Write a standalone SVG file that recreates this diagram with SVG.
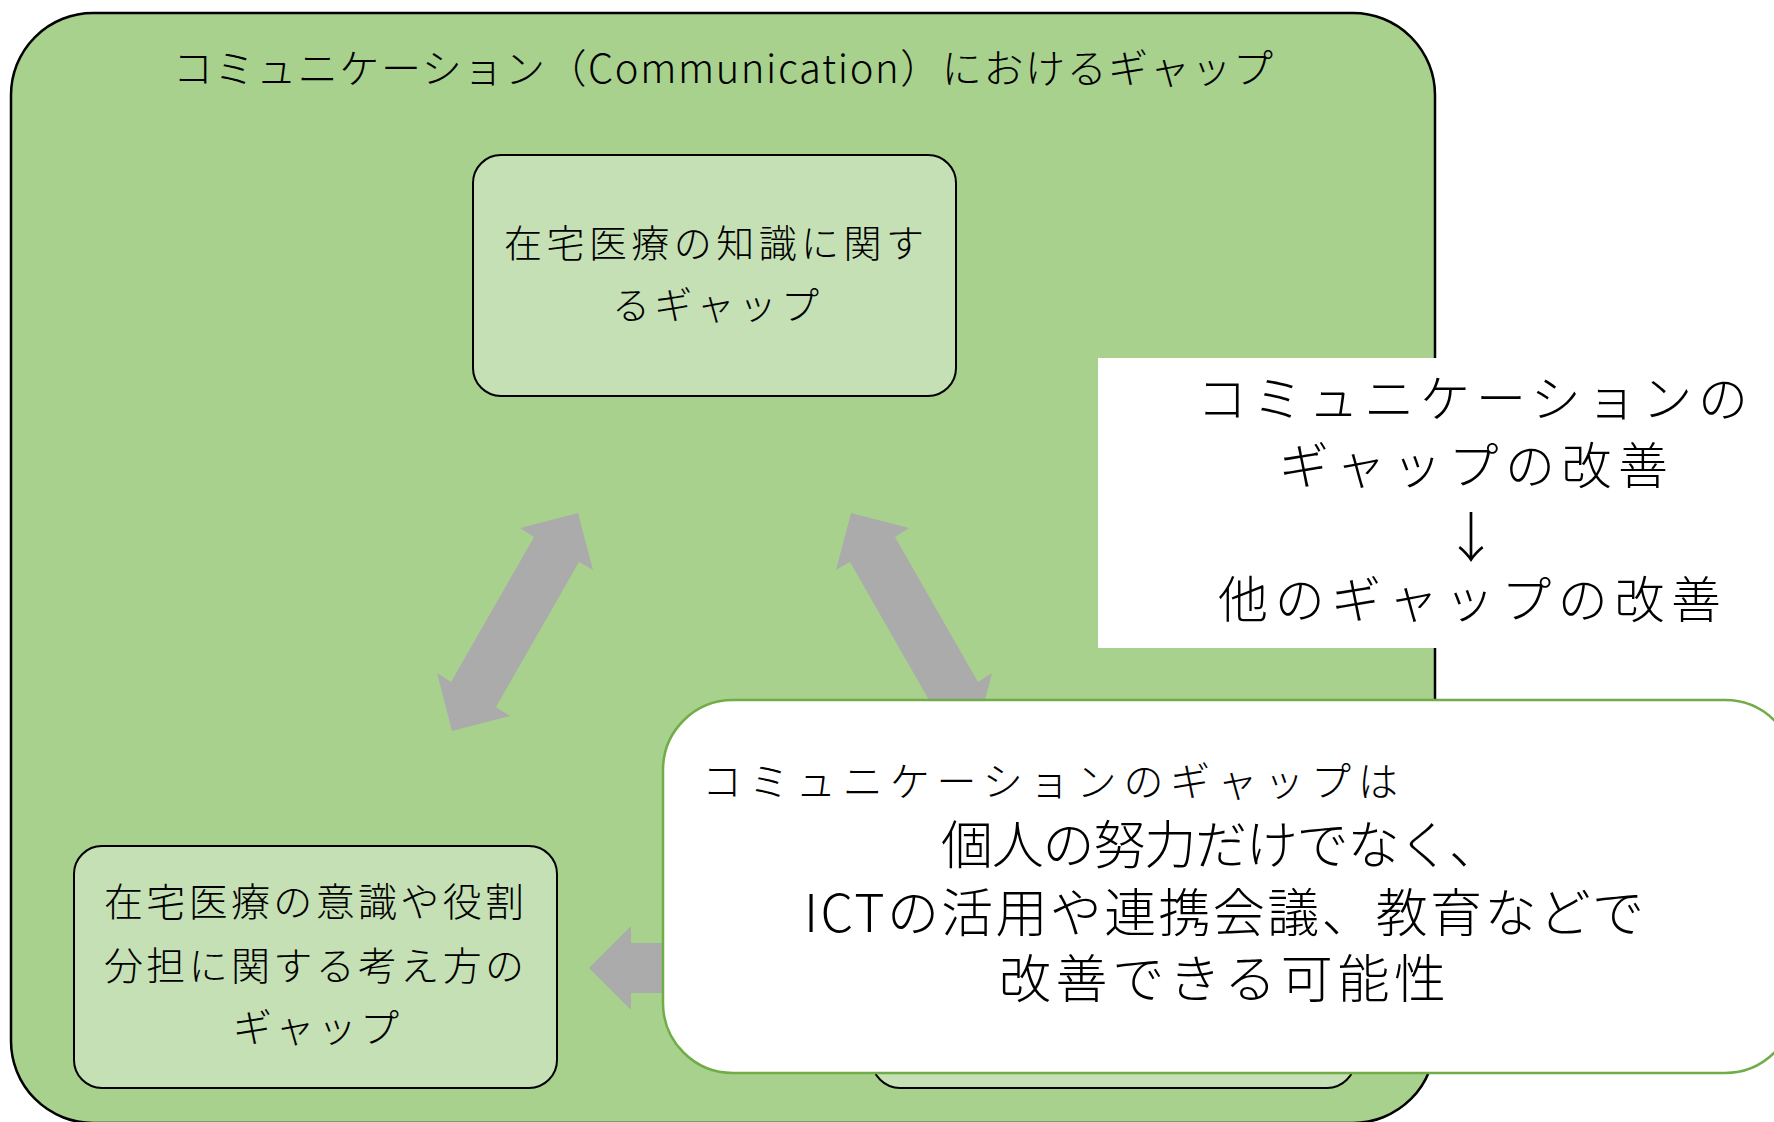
<svg xmlns="http://www.w3.org/2000/svg" width="1774" height="1122" viewBox="0 0 1774 1122">
<style>
.t{font-family:"Noto Sans CJK JP","Noto Sans",sans-serif;font-weight:300;fill:#000}
.box{fill:#C5E0B4;stroke:#000;stroke-width:2}
.arr{fill:#ABABAB}
</style>
<rect width="1774" height="1122" fill="#fff"/>
<g id="outer">
<rect x="11" y="13" width="1424" height="1110" rx="82" ry="82" fill="#A9D18E" stroke="#000" stroke-width="2.5"/>
<text class="t" x="173" y="83" font-size="40" textLength="1100" lengthAdjust="spacing">コミュニケーション（Communication）におけるギャップ</text>
</g>
<g id="node-knowledge">
<rect class="box" x="473" y="155" width="483" height="241" rx="28" ry="28"/>
<text class="t" x="504" y="257" font-size="38" textLength="420" lengthAdjust="spacing">在宅医療の知識に関す</text>
<text class="t" x="612" y="319" font-size="38" textLength="207" lengthAdjust="spacing">るギャップ</text>
</g>
<g id="node-awareness">
<rect class="box" x="74" y="846" width="483" height="242" rx="28" ry="28"/>
<text class="t" x="104" y="916" font-size="39" textLength="420" lengthAdjust="spacing">在宅医療の意識や役割</text>
<text class="t" x="104" y="980" font-size="39" textLength="420" lengthAdjust="spacing">分担に関する考え方の</text>
<text class="t" x="233" y="1042" font-size="39" textLength="166" lengthAdjust="spacing">ギャップ</text>
</g>
<g id="node-third">
<rect class="box" x="872" y="846" width="483" height="242" rx="28" ry="28"/>
</g>
<g id="connectors">
<polygon class="arr" points="578,513 593,570 579,562 496,707 510,716 452,731 437,673 451,682 534,537 520,528"/>
<polygon class="arr" points="851,513 909,528 895,537 978,682 992,673 977,731 919,716 933,707 850,562 836,570"/>
<polygon class="arr" points="589,968 631,926 631,943 720,943 720,993 631,993 631,1010"/>
</g>
<g id="note-improvement">
<rect x="1098" y="358" width="676" height="290" fill="#fff"/>
<text class="t" x="1197" y="417" font-size="50" textLength="551" lengthAdjust="spacing">コミュニケーションの</text>
<text class="t" x="1279" y="484" font-size="50" textLength="389" lengthAdjust="spacing">ギャップの改善</text>
<text class="t" x="1471" y="558" font-size="54" text-anchor="middle">↓</text>
<text class="t" x="1218" y="618" font-size="50" textLength="503" lengthAdjust="spacing">他のギャップの改善</text>
</g>
<g id="callout">
<rect x="663" y="700" width="1132" height="373" rx="70" ry="70" fill="#fff" stroke="#70AD47" stroke-width="2.5"/>
<text class="t" x="702" y="796" font-size="40" textLength="696" lengthAdjust="spacing">コミュニケーションのギャップは</text>
<text class="t" x="941" y="864" font-size="52" textLength="560" lengthAdjust="spacing">個人の努力だけでなく、</text>
<text class="t" x="804" y="932" font-size="52" textLength="840" lengthAdjust="spacing">ICTの活用や連携会議、教育などで</text>
<text class="t" x="999" y="998" font-size="52" textLength="447" lengthAdjust="spacing">改善できる可能性</text>
</g>
</svg>
